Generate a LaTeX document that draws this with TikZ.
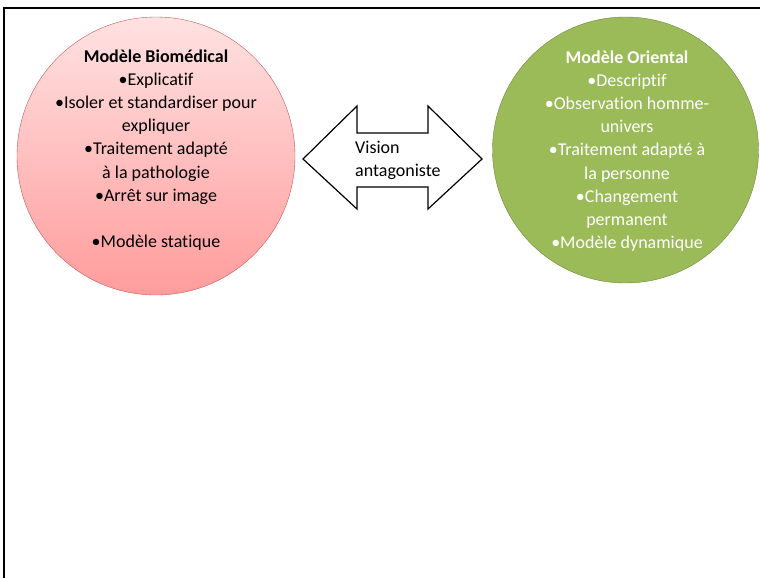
\documentclass[tikz,border=0pt]{standalone}
\usepackage{fontspec}
\setmainfont[Ligatures=NoCommon]{Carlito}
\definecolor{biotop}{HTML}{FFE2E2}
\definecolor{biobot}{HTML}{FF9C9C}
\definecolor{bioline}{HTML}{C8585A}
\definecolor{orfill}{HTML}{9BBB59}
\definecolor{orline}{HTML}{71893F}
\tikzset{modeltext/.style={align=center,font=\fontsize{18}{23.2}\selectfont,inner sep=0pt}}
\begin{document}
\begin{tikzpicture}[x=1pt,y=-1pt]
\useasboundingbox (0,0) rectangle (760,578);
\draw[line width=2pt] (4,578)--(4,8)--(760,8);
% biomedical model
\shade[top color=biotop,bottom color=biobot,draw=bioline] (156,156) circle (139);
\node[modeltext] (bio) at (156,150) {\textbf{Modèle Biomédical}\\•Explicatif\\•Isoler et standardiser pour\\expliquer\\•Traitement adapté\\ à la pathologie\\•Arrêt sur image\\[23.2pt]•Modèle statique};
% oriental model
\fill[orfill,draw=orline] (625.5,150) circle (133);
\node[modeltext,text=white] (orient) at (627,151) {\textbf{Modèle Oriental}\\•Descriptif\\•Observation homme-\\univers\\•Traitement adapté à\\la personne\\•Changement\\permanent\\•Modèle dynamique};
% double arrow
\draw[line width=1.2pt,fill=white,line join=miter] (303,159)--(357,106)--(357,133)--(428,133)--(428,106)--(482,159)
  --(428,209)--(428,187)--(357,187)--(357,209)--cycle;
\node[modeltext,align=left,anchor=west] (vision) at (355,160) {Vision\\antagoniste};
\end{tikzpicture}
\end{document}
